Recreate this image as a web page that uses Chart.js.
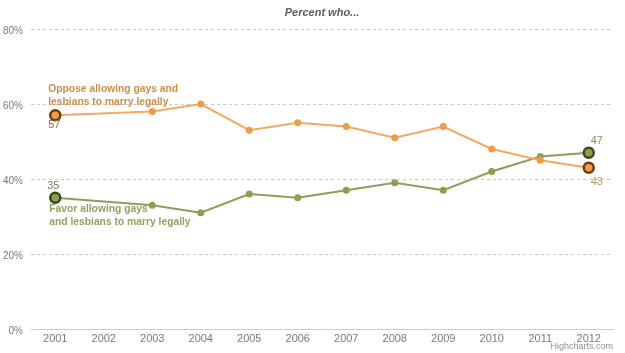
<!DOCTYPE html>
<html>
<head>
<meta charset="utf-8">
<script src="https://cdn.jsdelivr.net/npm/chart.js@4.4.1/dist/chart.umd.min.js"></script>
<style>
html,body{margin:0;padding:0;background:#fff;}
#wrap{position:relative;width:625px;height:353px;}
</style>
</head>
<body>
<div id="wrap"><canvas id="c" width="625" height="353"></canvas></div>
<script>
const years = ['2001','2002','2003','2004','2005','2006','2007','2008','2009','2010','2011','2012'];
const oppose = [57, null, 58, 60, 53, 55, 54, 51, 54, 48, 45, 43];
const favor  = [35, null, 33, 31, 36, 35, 37, 39, 37, 42, 46, 47];
const yTicks = [0, 20, 40, 60, 80];
const titleText = 'Percent who...';
const opposeLabel = ['Oppose allowing gays and', 'lesbians to marry legally'];
const favorLabel = ['Favor allowing gays', 'and lesbians to marry legally'];
const creditText = 'Highcharts.com';

const FONT = '"Liberation Sans", Arial, sans-serif';
const orangeLine = '#F2A962', orangePt = '#EE9C45', orangeDark = '#6B3E12', orangeText = '#CF8E46';
const greenLine = '#8E9E5C', greenPt = '#8CA052', greenDark = '#3A4A1E', greenText = '#91A262';

const last = years.length - 1;
function radii(arr){ return arr.map((v,i)=> (i===0||i===last) ? 5 : 3.5); }
function borderCols(arr, dark, fill){ return arr.map((v,i)=> (i===0||i===last) ? dark : fill); }
function borderWs(arr){ return arr.map((v,i)=> (i===0||i===last) ? 2.5 : 0); }

const annot = {
  id: 'annot',
  afterDatasetsDraw(chart){
    const ctx = chart.ctx, x = chart.scales.x, y = chart.scales.y;
    ctx.save();
    // title
    ctx.font = 'italic bold 11px ' + FONT;
    ctx.fillStyle = '#5E5E5E';
    ctx.textAlign = 'center'; ctx.textBaseline = 'middle';
    ctx.fillText(titleText, (x.left + x.right)/2, 13);
    // series labels
    ctx.font = 'bold 10.3px ' + FONT;
    ctx.textAlign = 'left';
    const x0 = x.getPixelForValue(0);
    const yo = y.getPixelForValue(oppose[0]);
    ctx.fillStyle = orangeText;
    ctx.fillText(opposeLabel[0], x0 - 7, yo - 26);
    ctx.fillText(opposeLabel[1], x0 - 7, yo - 13);
    const yf = y.getPixelForValue(favor[0]);
    ctx.fillStyle = greenText;
    ctx.fillText(favorLabel[0], x0 - 6, yf + 11);
    ctx.fillText(favorLabel[1], x0 - 6, yf + 24);
    // data labels
    ctx.font = '11px ' + FONT;
    ctx.textAlign = 'center';
    ctx.fillStyle = '#8A6E45';
    ctx.fillText(String(oppose[0]), x0 - 1, yo + 10);
    ctx.fillStyle = '#7E8258';
    ctx.fillText(String(favor[0]), x0 - 2, yf - 12);
    const xl = x.getPixelForValue(last);
    ctx.fillStyle = '#7F9155';
    ctx.fillText(String(favor[last]), xl + 8, y.getPixelForValue(favor[last]) - 12);
    ctx.fillStyle = '#B59A66';
    ctx.fillText(String(oppose[last]), xl + 8, y.getPixelForValue(oppose[last]) + 14);
    // credit
    ctx.font = '9px ' + FONT;
    ctx.fillStyle = '#909090';
    ctx.textAlign = 'right';
    ctx.fillText(creditText, 613, 347);
    ctx.restore();
  }
};

new Chart(document.getElementById('c'), {
  type: 'line',
  data: {
    labels: years,
    datasets: [
      {
        label: 'Oppose', data: oppose, spanGaps: true,
        borderColor: orangeLine, borderWidth: 2, tension: 0,
        pointRadius: radii(oppose), pointBackgroundColor: orangePt,
        pointBorderColor: borderCols(oppose, orangeDark, orangePt),
        pointBorderWidth: borderWs(oppose), pointHoverRadius: 0
      },
      {
        label: 'Favor', data: favor, spanGaps: true,
        borderColor: greenLine, borderWidth: 2, tension: 0,
        pointRadius: radii(favor), pointBackgroundColor: greenPt,
        pointBorderColor: borderCols(favor, greenDark, greenPt),
        pointBorderWidth: borderWs(favor), pointHoverRadius: 0
      }
    ]
  },
  options: {
    responsive: false, animation: false,
    events: [],
    layout: { padding: { left: 0, right: 12, top: 29, bottom: 0 } },
    plugins: { legend: { display: false }, tooltip: { enabled: false }, title: { display: false } },
    scales: {
      x: {
        offset: true,
        grid: { display: false, offset: true, drawTicks: false, tickLength: 0 },
        border: { display: true, color: '#C0D0E0', width: 1 },
        ticks: { color: '#7A7A7A', font: { family: FONT, size: 11 }, padding: 3, maxRotation: 0, autoSkip: false },
        afterFit(s){ s.height = 24; }
      },
      y: {
        min: 0, max: 80,
        afterBuildTicks(s){ s.ticks = yTicks.map(v => ({ value: v })); },
        grid: {
          color: ctx => ctx.tick && ctx.tick.value === 0 ? 'rgba(0,0,0,0)' : '#C8C8C8',
          lineWidth: 1, drawTicks: false
        },
        border: { display: false, dash: [3, 3] },
        ticks: { color: '#7A7A7A', font: { family: FONT, size: 10 }, padding: 8, labelOffset: 2, callback: v => v + '%' },
        afterFit(s){ s.width = 31; }
      }
    }
  },
  plugins: [annot]
});
</script>
</body>
</html>
